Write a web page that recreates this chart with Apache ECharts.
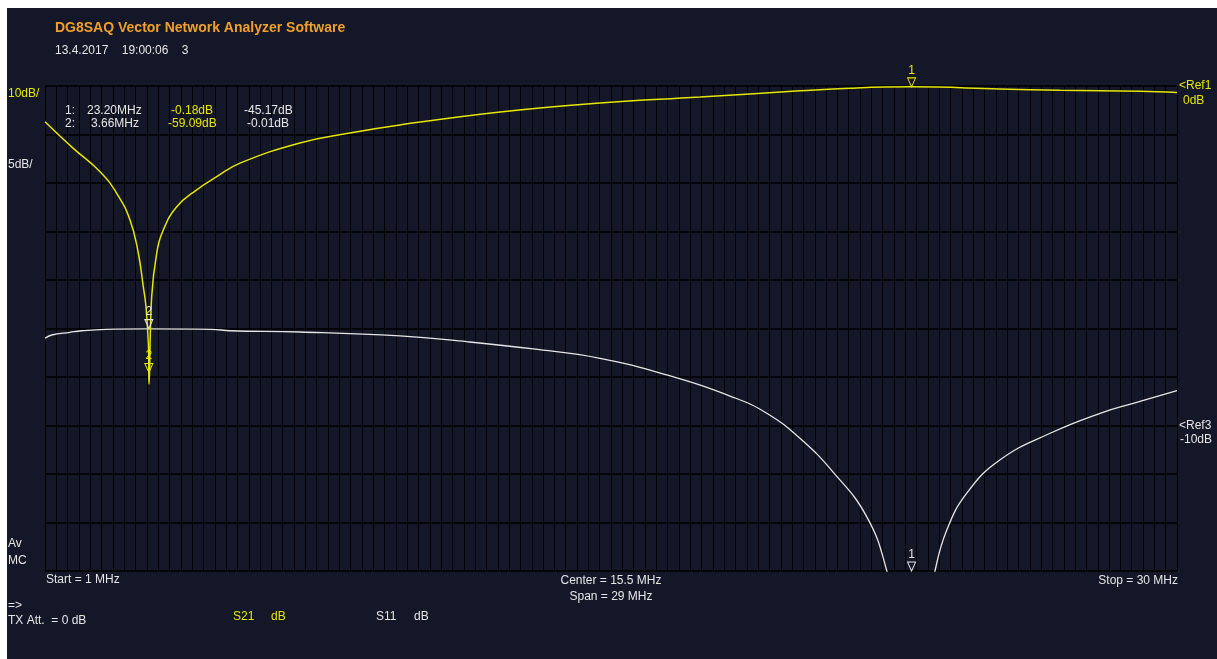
<!DOCTYPE html>
<html>
<head>
<meta charset="utf-8">
<script src="https://cdn.jsdelivr.net/npm/echarts@6/dist/echarts.min.js"></script>
<style>
html,body{margin:0;padding:0;background:#ffffff;width:1217px;height:659px;overflow:hidden;}
#c{position:absolute;left:7px;top:8px;width:1210px;height:651px;}
</style>
</head>
<body>
<div id="c"></div>
<script>
// S21 trace (yellow, 10 dB/div, Ref1 = 0 dB at top)
const s21Freq = [1.0, 1.725, 2.41, 2.837, 3.178, 3.39, 3.518, 3.587, 3.646, 3.665, 3.733, 3.862, 4.03, 4.374, 4.886, 5.40, 5.995, 7.53, 8.81, 10.09, 12.66, 15.22, 17.78, 20.34, 21.62, 23.2, 25.46, 27.0, 29.05, 30.0];
const s21Db   = [-7.36, -12.85, -17.67, -22.12, -27.63, -34.43, -41.38, -45.5, -53.0, -61.5, -43.4, -34.5, -29.7, -24.9, -21.4, -18.7, -15.9, -11.75, -9.7, -8.04, -5.36, -3.5, -2.27, -1.0, -0.45, -0.18, -0.6, -0.9, -1.1, -1.35];
// S11 trace (white, 5 dB/div, Ref3 = -10 dB)
const s11Freq = [1.0, 1.172, 1.64, 1.94, 2.563, 3.605, 5.27, 5.74, 7.53, 10.09, 11.80, 13.51, 15.22, 16.93, 18.63, 19.49, 20.34, 21.19, 22.05, 22.56, 22.85, 23.2, 23.52, 23.80, 24.10, 24.61, 25.46, 26.75, 28.03, 28.88, 30.0];
const s11Db   = [-1.01, -0.67, -0.39, -0.23, -0.08, -0.03, -0.08, -0.23, -0.36, -0.77, -1.36, -2.11, -3.07, -4.79, -7.09, -8.74, -11.32, -14.8, -19.4, -24.9, -31, -45.17, -31, -25, -20.8, -17.0, -13.56, -10.8, -8.74, -7.71, -6.41];
// Markers
const markerFreq = [23.20, 3.66];
const markerS21 = [-0.18, -59.09];
const markerS11 = [-45.17, -0.01];

const YEL = '#e6e600';
const WHT = '#e6e6e6';
const FONT = '12px "Liberation Sans", Arial, sans-serif';

function zip(a, b) { return a.map((v, i) => [v, b[i]]); }

function txt(text, x, y, fill, opts) {
  opts = opts || {};
  return {
    type: 'text', x: x, y: y, silent: true, z: 100,
    style: {
      text: text, fill: fill,
      font: opts.font || FONT,
      align: opts.align || 'left',
      verticalAlign: 'middle'
    }
  };
}

function markTri(color, label) {
  return {
    symbol: 'path://M0,0 L10,0 L5,10 Z',
    symbolSize: [8, 9],
    symbolOffset: [0, '-50%'],
    itemStyle: { color: 'rgba(0,0,0,0)', borderColor: color, borderWidth: 1 },
    label: { show: true, formatter: label, position: 'top', distance: 1, color: color, font: FONT }
  };
}

const chart = echarts.init(document.getElementById('c'), null, { renderer: 'canvas' });

const graphics = [
  txt('DG8SAQ Vector Network Analyzer Software', 48, 20, '#f0a028', { font: 'bold 14px "Liberation Sans", Arial, sans-serif' }),
  txt('13.4.2017    19:00:06    3', 48, 43, WHT),
  txt('10dB/', 1, 86, YEL),
  txt('5dB/', 1, 157, WHT),
  txt('1:', 58, 102.5, WHT),
  txt('23.20MHz', 80, 102.5, WHT),
  txt(markerS21[0].toFixed(2) + 'dB', 164, 102.5, YEL),
  txt(markerS11[0].toFixed(2) + 'dB', 237, 102.5, WHT),
  txt('2:', 58, 115.5, WHT),
  txt('3.66MHz', 84, 115.5, WHT),
  txt(markerS21[1].toFixed(2) + 'dB', 161, 115.5, YEL),
  txt(markerS11[1].toFixed(2) + 'dB', 240, 115.5, WHT),
  txt('<Ref1', 1172, 78, YEL),
  txt('0dB', 1176, 93, YEL),
  txt('<Ref3', 1172, 418, WHT),
  txt('-10dB', 1173, 432, WHT),
  txt('Av', 1, 536, WHT),
  txt('MC', 1, 553, WHT),
  txt('Start = 1 MHz', 39, 572, WHT),
  txt('Center = 15.5 MHz', 604, 573, WHT, { align: 'center' }),
  txt('Span = 29 MHz', 604, 589, WHT, { align: 'center' }),
  txt('Stop = 30 MHz', 1171, 573, WHT, { align: 'right' }),
  txt('=>', 1, 598, WHT),
  txt('TX Att.  = 0 dB', 1, 613, WHT),
  txt('S21', 226, 609, YEL),
  txt('dB', 264, 609, YEL),
  txt('S11', 369, 609, WHT),
  txt('dB', 407, 609, WHT)
];

const option = {
  backgroundColor: '#131728',
  animation: false,
  grid: { left: 38, top: 78, width: 1132, height: 485, containLabel: false },
  xAxis: [
    { type: 'value', min: 1, max: 30, show: true,
      axisLine: { show: false }, axisTick: { show: false }, axisLabel: { show: false }, splitLine: { show: false } },
    { type: 'value', min: 0, max: 100, interval: 1, show: true,
      axisLine: { show: false }, axisTick: { show: false }, axisLabel: { show: false },
      splitLine: { show: true, lineStyle: { color: '#000000', width: 1 } } }
  ],
  yAxis: [
    { type: 'value', min: -100, max: 0, interval: 10,
      axisLine: { show: false }, axisTick: { show: false }, axisLabel: { show: false },
      splitLine: { show: true, lineStyle: { color: '#000000', width: 1.5 } } },
    { type: 'value', min: -25, max: 25, interval: 5,
      axisLine: { show: false }, axisTick: { show: false }, axisLabel: { show: false },
      splitLine: { show: false } }
  ],
  series: [
    { name: 'S11', type: 'line', xAxisIndex: 0, yAxisIndex: 1,
      data: zip(s11Freq, s11Db), showSymbol: false, smooth: 0.45,
      lineStyle: { color: WHT, width: 1.3 }, clip: true, z: 3,
      markPoint: {
        data: [
          Object.assign({ coord: [markerFreq[0], -25] }, markTri(WHT, '1')),
          Object.assign({ coord: [markerFreq[1], markerS11[1]] }, markTri(WHT, '2'))
        ]
      }
    },
    { name: 'S21', type: 'line', xAxisIndex: 0, yAxisIndex: 0,
      data: zip(s21Freq, s21Db), showSymbol: false, smooth: 0.45,
      lineStyle: { color: YEL, width: 1.5 }, clip: true, z: 4,
      markPoint: {
        data: [
          Object.assign({ coord: [markerFreq[0], markerS21[0]] }, markTri(YEL, '1')),
          Object.assign({ coord: [markerFreq[1], markerS21[1]] }, markTri(YEL, '2'))
        ]
      }
    }
  ],
  graphic: graphics
};

chart.setOption(option);
</script>
</body>
</html>
